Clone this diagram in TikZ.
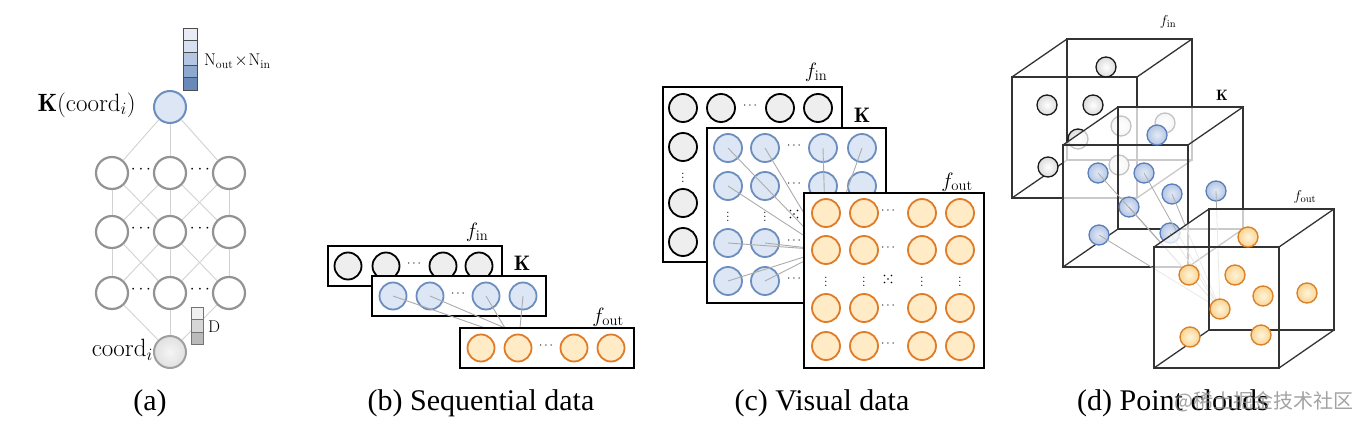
\documentclass[tikz,border=0pt]{standalone}
\usepackage{fontspec}
\newfontfamily\capfont{Liberation Serif}
\newfontfamily\cjkfont{Noto Sans CJK SC}
\usetikzlibrary{calc}
\definecolor{blueE}{HTML}{6C8EBF}
\definecolor{blueF}{HTML}{DDE6F4}
\definecolor{orE}{HTML}{E07B28}
\definecolor{orF}{HTML}{FFEBC6}
\definecolor{grF}{HTML}{EEEEEE}
\definecolor{dblueE}{HTML}{5B7DB8}
\definecolor{dorE}{HTML}{D9822B}
\newcommand\xdotsat[1]{\foreach \ox/\oy in {-3.5/-3.5,3.5/-3.5,0/0,-3.5/3.5,3.5/3.5}{\fill ($(#1)+(\ox,\oy)$) circle (0.8);}}
\newcommand\mycube[5]{%
  \fill[white, opacity=#5] (#1,#4) -- (#1,#2) -- (#1+55,#2-38) -- (#3+55,#2-38) -- (#3+55,#4-38) -- (#3,#4) -- cycle;
  \draw[cubeedge] (#1,#2) rectangle (#3,#4);
  \draw[cubeedge] (#1+55,#2-38) rectangle (#3+55,#4-38);
  \draw[cubeedge] (#1,#2) -- (#1+55,#2-38) (#3,#2) -- (#3+55,#2-38) (#3,#4) -- (#3+55,#4-38) (#1,#4) -- (#1+55,#4-38);
}
\begin{document}
\begin{tikzpicture}[x=1pt,y=-1pt,
  incirc/.style={circle, draw=black, fill=grF, line width=1.8pt, inner sep=0pt, minimum size=#1},
  kcirc/.style={circle, draw=blueE, fill=blueF, line width=1.8pt, inner sep=0pt, minimum size=#1},
  outcirc/.style={circle, draw=orE, fill=orF, line width=1.8pt, inner sep=0pt, minimum size=#1},
  gcirc/.style={circle, draw=gray!85, fill=white, line width=2.2pt, inner sep=0pt, minimum size=32pt},
  layer/.style={draw=black, fill=white, line width=1.3pt, inner sep=0pt},
  wire/.style={draw=gray!65, line width=0.9pt},
  netline/.style={draw=gray!35, line width=0.9pt},
  lbl/.style={font=\fontsize{21}{24}\selectfont, inner sep=0pt},
  slbl/.style={font=\fontsize{15}{18}\selectfont, inner sep=0pt},
  dotl/.style={font=\fontsize{13}{15}\selectfont, inner sep=0pt},
  captext/.style={font=\capfont\fontsize{30}{36}\selectfont, inner sep=0pt},
  cell/.style={draw=black!70, line width=0.8pt, minimum width=14pt, minimum height=12.4pt, inner sep=0pt},
  dcell/.style={draw=black!55, line width=0.8pt, minimum width=12pt, minimum height=12.6pt, inner sep=0pt},
  cubeedge/.style={draw=black!80, line width=1.3pt},
  dincirc/.style={circle, draw=black!90, line width=1.3pt, inner sep=0pt, minimum size=20pt,
     inner color=white, outer color=black!14},
  dkcirc/.style={circle, draw=dblueE, line width=1.3pt, inner sep=0pt, minimum size=20pt,
     inner color={rgb,255:red,228;green,235;blue,246}, outer color={rgb,255:red,180;green,198;blue,228}},
  doutcirc/.style={circle, draw=dorE, line width=1.4pt, inner sep=0pt, minimum size=20pt,
     inner color={rgb,255:red,255;green,245;blue,222}, outer color={rgb,255:red,250;green,212;blue,145}}
]
\useasboundingbox (0,0) rectangle (1360,428);
\fill[white] (0,0) rectangle (1360,428);

%% ---------------- (a) ----------------
\node[circle, draw=blueE, fill=blueF, line width=2pt, inner sep=0pt, minimum size=32pt] (ka) at (170,107) {};
\foreach \r/\y in {1/173,2/232,3/293}{
  \foreach \c/\x in {1/112,2/170,3/229}{
    \node[gcirc] (g-\r-\c) at (\x,\y) {};
  }
}
\node[circle, draw=gray!75, line width=2pt, inner sep=0pt, minimum size=32pt, inner color=black!4, outer color=black!12] (co) at (170,352) {};
\foreach \c in {1,2,3}{ \draw[netline] (ka) -- (g-1-\c); \draw[netline] (g-3-\c) -- (co); }
\foreach \r/\s in {1/2,2/3}{
  \draw[netline] (g-\r-1) -- (g-\s-1);
  \draw[netline] (g-\r-1) -- (g-\s-2);
  \draw[netline] (g-\r-2) -- (g-\s-1);
  \draw[netline] (g-\r-2) -- (g-\s-2);
  \draw[netline] (g-\r-2) -- (g-\s-3);
  \draw[netline] (g-\r-3) -- (g-\s-2);
  \draw[netline] (g-\r-3) -- (g-\s-3);
}
\foreach \r/\y in {1/173,2/232,3/293}{
  \node[font=\fontsize{19}{22}\selectfont, inner sep=0pt] (ad-\r-a) at (141,\y-3) {$\cdots$};
  \node[font=\fontsize{19}{22}\selectfont, inner sep=0pt] (ad-\r-b) at (200,\y-3) {$\cdots$};
}
\node[cell, fill={rgb,255:red,232;green,237;blue,245}] (v1) at (190,34.2) {};
\node[cell, fill={rgb,255:red,214;green,224;blue,240}] (v2) at (190,46.6) {};
\node[cell, fill={rgb,255:red,181;green,198;blue,226}] (v3) at (190,59.0) {};
\node[cell, fill={rgb,255:red,142;green,168;blue,208}] (v4) at (190,71.4) {};
\node[cell, fill={rgb,255:red,106;green,137;blue,187}] (v5) at (190,83.8) {};
\node[anchor=west, font=\fontsize{17}{20}\selectfont, inner sep=0pt] (nlab) at (204,61) {$\mathrm{N_{out}}\!\times\!\mathrm{N_{in}}$};
\node[dcell, fill=black!6] (d1) at (197,313.3) {};
\node[dcell, fill=black!16] (d2) at (197,325.9) {};
\node[dcell, fill=black!27] (d3) at (197,338.5) {};
\node[anchor=west, font=\fontsize{17}{20}\selectfont, inner sep=0pt] (dlab) at (208,327) {D};
\node[anchor=east, font=\fontsize{25}{28}\selectfont, inner sep=0pt] (kalab) at (136,105) {$\mathbf{K}(\mathrm{coord}_i)$};
\node[anchor=east, font=\fontsize{25}{28}\selectfont, inner sep=0pt] (colab) at (153,350) {$\mathrm{coord}_i$};

%% ---------------- (b) ----------------
\node[layer, minimum width=174pt, minimum height=40pt] (bin) at (415,266) {};
\foreach \i/\x in {1/348,2/386,3/443,4/479}{ \node[incirc=27pt] (bi-\i) at (\x,266) {}; }
\node[dotl] (bid) at (414,264) {$\cdots$};
\node[layer, minimum width=174pt, minimum height=40pt] (bk) at (459,296) {};
\foreach \i/\x in {1/393,2/430,3/486,4/523}{ \node[kcirc=27pt] (bk-\i) at (\x,296) {}; }
\node[dotl] (bkd) at (458,294) {$\cdots$};
\coordinate (bt1) at (485,328);
\coordinate (bt2) at (505,328);
\coordinate (bt3) at (520,328);
\draw[wire] (bk-1.center) -- (bt1);
\draw[wire] (bk-2.center) -- (bt2);
\draw[wire] (bk-3.center) -- (bt2);
\draw[wire] (bk-4.center) -- (bt3);
\node[layer, minimum width=174pt, minimum height=40pt] (bout) at (547,348) {};
\foreach \i/\x in {1/481,2/518,3/574,4/611}{ \node[outcirc=27pt] (bo-\i) at (\x,348) {}; }
\node[dotl] (bod) at (546,346) {$\cdots$};
\node[lbl] (bfin) at (477,232) {$f_{\mathrm{in}}$};
\node[lbl] (bK) at (522,263) {$\mathbf{K}$};
\node[lbl] (bfout) at (608,317) {$f_{\mathrm{out}}$};

%% ---------------- (c) ----------------
\node[layer, minimum width=179pt, minimum height=175pt] (cin) at (752.5,174.5) {};
\foreach \c/\x in {1/683,2/721,3/780,4/818}{
  \foreach \r/\y in {1/108,2/147,3/203,4/242}{ \node[incirc=28pt] (ci-\r-\c) at (\x,\y) {}; }
  \node[dotl] (civ-\c) at (\x,175) {$\vdots$};
}
\foreach \r/\y in {1/108,2/147,3/203,4/242}{ \node[dotl] (cih-\r) at (750,\y-2) {$\cdots$}; }
\coordinate (cidd) at (750,175);
\xdotsat{cidd}
\node[layer, minimum width=179pt, minimum height=175pt] (ck) at (796.5,215.5) {};
\foreach \c/\x in {1/728,2/765,3/823,4/862}{
  \foreach \r/\y in {1/148,2/186,3/243,4/281}{ \node[kcirc=28pt] (ck-\r-\c) at (\x,\y) {}; }
  \node[dotl] (ckv-\c) at (\x,214) {$\vdots$};
}
\foreach \r/\y in {1/148,2/186,3/243,4/281}{ \node[dotl] (ckh-\r) at (794,\y-2) {$\cdots$}; }
\coordinate (ckdd) at (794,214);
\xdotsat{ckdd}
\coordinate (ctgt) at (826,250);
\foreach \r/\c in {1/1,1/2,1/3,1/4,2/1,3/1,3/2,4/1,4/2}{ \draw[wire] (ck-\r-\c.center) -- (ctgt); }
\node[layer, minimum width=180pt, minimum height=175pt] (cout) at (894,280.5) {};
\foreach \c/\x in {1/826,2/864,3/922,4/960}{
  \foreach \r/\y in {1/213,2/250,3/308,4/346}{ \node[outcirc=28pt] (co-\r-\c) at (\x,\y) {}; }
  \node[dotl] (cov-\c) at (\x,279) {$\vdots$};
}
\foreach \r/\y in {1/213,2/250,3/308,4/346}{ \node[dotl] (coh-\r) at (888,\y-2) {$\cdots$}; }
\coordinate (codd) at (888,279);
\xdotsat{codd}
\node[lbl] (cfin) at (816,72) {$f_{\mathrm{in}}$};
\node[lbl] (cK) at (862,115) {$\mathbf{K}$};
\node[lbl] (cfout) at (957,182) {$f_{\mathrm{out}}$};

%% ---------------- (d) ----------------
\mycube{1012}{77}{1137}{198}{1}
\foreach \i/\dx/\dy in {1/0/0,2/-59/38,3/-13/38,4/15/59,5/59/56,6/-28/72,7/-58/100,8/13/98}{
  \node[dincirc] (di-\i) at (1106+\dx,67+\dy) {};
}
\mycube{1063}{145}{1188}{267}{0.74}
\foreach \i/\dx/\dy in {1/0/0,2/-59/38,3/-13/38,4/15/59,5/59/56,6/-28/72,7/-58/100,8/13/98}{
  \node[dkcirc] (dk-\i) at (1157+\dx,135+\dy) {};
}
\coordinate (dtgt) at (1220,309);
\foreach \i in {2,...,8}{ \draw[wire, line width=0.8pt] (dk-\i.center) -- (dtgt); }
\mycube{1154}{247}{1279}{368}{0.74}
\foreach \i/\dx/\dy in {1/0/0,2/-59/38,3/-13/38,4/15/59,5/59/56,6/-28/72,7/-58/100,8/13/98}{
  \node[doutcirc] (do-\i) at (1248+\dx,237+\dy) {};
}
\node[slbl] (dfin) at (1168,22) {$f_{\mathrm{in}}$};
\node[slbl] (dK) at (1222,95) {$\mathbf{K}$};
\node[slbl] (dfout) at (1305,197) {$f_{\mathrm{out}}$};

%% ---------------- captions ----------------
\node[captext] (capa) at (150,403) {(a)};
\node[captext] (capb) at (481,403) {(b) Sequential data};
\node[captext] (capc) at (822,403) {(c) Visual data};
\node[captext] (capd) at (1173,403) {(d) Point clouds};
\node[font=\cjkfont\fontsize{20}{24}\selectfont, text=black!45, text opacity=0.8, inner sep=0pt] (wm) at (1264,402) {@稀土掘金技术社区};
\end{tikzpicture}
\end{document}
